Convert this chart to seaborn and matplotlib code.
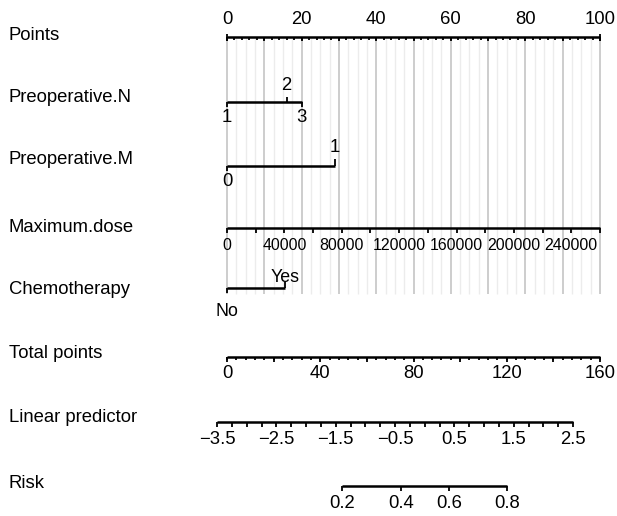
import numpy as np
import pandas as pd
import matplotlib
matplotlib.use("Agg")
import matplotlib.pyplot as plt
import seaborn as sns

# ---------------- data ----------------
row_names = ["Points", "Preoperative.N", "Preoperative.M", "Maximum.dose",
             "Chemotherapy", "Total points", "Linear predictor", "Risk"]

points_major = [0, 10, 20, 30, 40, 50, 60, 70, 80, 90, 100]
points_minor = [0, 2, 4, 6, 8, 10, 12, 14, 16, 18, 20, 22, 24, 26, 28, 30, 32, 34, 36, 38,
                40, 42, 44, 46, 48, 50, 52, 54, 56, 58, 60, 62, 64, 66, 68, 70, 72, 74, 76,
                78, 80, 82, 84, 86, 88, 90, 92, 94, 96, 98, 100]
points_labels = [0, 20, 40, 60, 80, 100]

preop_n_levels = ["1", "2", "3"]
preop_n_points = [0, 16, 20]

preop_m_levels = ["0", "1"]
preop_m_points = [0, 29]

dose_ticks = [0, 20000, 40000, 60000, 80000, 100000, 120000, 140000, 160000,
              180000, 200000, 220000, 240000, 260000]
dose_labels = [0, 40000, 80000, 120000, 160000, 200000, 240000]
dose_at_100_points = 260000

chemo_levels = ["No", "Yes"]
chemo_points = [0, 15.5]

total_major = [0, 20, 40, 60, 80, 100, 120, 140, 160]
total_minor = [0, 4, 8, 12, 16, 20, 24, 28, 32, 36, 40, 44, 48, 52, 56, 60, 64, 68, 72, 76,
               80, 84, 88, 92, 96, 100, 104, 108, 112, 116, 120, 124, 128, 132, 136, 140,
               144, 148, 152, 156, 160]
total_labels = [0, 40, 80, 120, 160]
total_max = 160

lp_ticks = [-3.5, -3.25, -3.0, -2.75, -2.5, -2.25, -2.0, -1.75, -1.5, -1.25, -1.0, -0.75,
            -0.5, -0.25, 0.0, 0.25, 0.5, 0.75, 1.0, 1.25, 1.5, 1.75, 2.0, 2.25, 2.5]
lp_labels = [-3.5, -2.5, -1.5, -0.5, 0.5, 1.5, 2.5]
tp_at_lp0 = 84.8      # total points where linear predictor = 0
tp_per_lp = 25.45     # total points per unit of linear predictor

risk_labels = [0.2, 0.4, 0.6, 0.8]

# ---------------- helpers ----------------
def tp_to_x(tp):
    return np.asarray(tp, float) * 100.0 / total_max

def lp_to_x(lp):
    return tp_to_x(tp_at_lp0 + np.asarray(lp, float) * tp_per_lp)

def risk_to_x(r):
    r = np.asarray(r, float)
    return lp_to_x(np.log(r / (1 - r)))

def fmt(v):
    s = f"{v:g}"
    return s.replace("-", "\u2212")

# ---------------- figure ----------------
sns.set_theme(style="white")
plt.rcParams["font.family"] = ["Liberation Sans", "DejaVu Sans"]
plt.rcParams["text.color"] = "black"

W, H = 617, 516
fig = plt.figure(figsize=(W / 100, H / 100), dpi=100)
ax = fig.add_axes([0, 0, 1, 1])
ppx = 3.73           # pixels per point
x0px = 227           # pixel of point 0
ax.set_xlim(-x0px / ppx, (W - x0px) / ppx)
ax.set_ylim(H, 0)
ax.axis("off")

LW = 1.8
TLW = 1.3
FS = 13.3
BLACK = "black"

def baseline(xa, xb, y):
    df = pd.DataFrame({"x": [xa, xb], "y": [y, y]})
    sns.lineplot(data=df, x="x", y="y", color=BLACK, lw=LW, ax=ax,
                 estimator=None, sort=False, legend=False, solid_capstyle="butt")

def ticks(xs, y, length):
    ax.vlines(xs, y, y + length, color=BLACK, lw=TLW)

def txt(x, y, s, fs=FS, ha="center"):
    ax.text(x, y, s, ha=ha, va="center", fontsize=fs, color="black")

# grid lines
grid_minor = [v / 4 for v in range(0, 401, 10)]
ax.vlines([g for g in grid_minor if g % 10 != 0], 38, 294, color="#ececec", lw=1.0, zorder=0)
ax.vlines(points_major, 38, 294, color="#cdcdcd", lw=1.4, zorder=0)

# row labels
row_y = [36, 97, 160, 228, 289, 353, 418, 483]
for name, y in zip(row_names, row_y):
    txt(-x0px / ppx + 9 / ppx, y, name, ha="left")

# Points
y = 37
baseline(0, 100, y)
ticks(points_minor, y, 2.5)
ticks(points_major, y, 4)
ticks([0, 100], y - 3, 7)
for v in points_labels:
    txt(v, 20, fmt(v))

# Preoperative.N
y = 101.5
baseline(min(preop_n_points), max(preop_n_points), y)
for lev, p in zip(preop_n_levels, preop_n_points):
    if lev == "2":
        ticks([p], y - 5, 5)
        txt(p, 85, lev)
    else:
        ticks([p], y, 5)
        txt(p, 118, lev)

# Preoperative.M
y = 166
baseline(min(preop_m_points), max(preop_m_points), y)
ticks([preop_m_points[0]], y, 5)
txt(preop_m_points[0], 181, preop_m_levels[0])
ticks([preop_m_points[1]], y - 7, 7)
txt(preop_m_points[1], 148, preop_m_levels[1])

# Maximum.dose
y = 228
dose_x = [d * 100.0 / dose_at_100_points for d in dose_ticks]
baseline(0, max(dose_x), y)
ticks(dose_x, y, 5)
for d in dose_labels:
    txt(d * 100.0 / dose_at_100_points, 245, fmt(d), fs=11.4)

# Chemotherapy
y = 288
baseline(min(chemo_points), max(chemo_points), y)
ticks([chemo_points[0]], y, 5)
txt(chemo_points[0], 312, chemo_levels[0], fs=12.8)
ticks([chemo_points[1]], y - 6, 6)
txt(chemo_points[1], 278, chemo_levels[1], fs=12.8)

# Total points
y = 357
baseline(0, 100, y)
ticks(tp_to_x(total_minor), y, 2.5)
ticks(tp_to_x(total_major), y, 4.5)
for v in total_labels:
    txt(tp_to_x(v), 374, fmt(v))

# Linear predictor
y = 422
lx = lp_to_x(lp_ticks)
baseline(lx.min(), lx.max(), y)
ticks(lx, y, 5)
for v in lp_labels:
    txt(lp_to_x(v), 440, fmt(v))

# Risk
y = 486
rx = risk_to_x(risk_labels)
baseline(rx.min(), rx.max(), y)
ticks(rx, y, 5)
for v, xv in zip(risk_labels, rx):
    txt(xv, 503, fmt(v))

fig.savefig("out.png", dpi=100, facecolor="white")
